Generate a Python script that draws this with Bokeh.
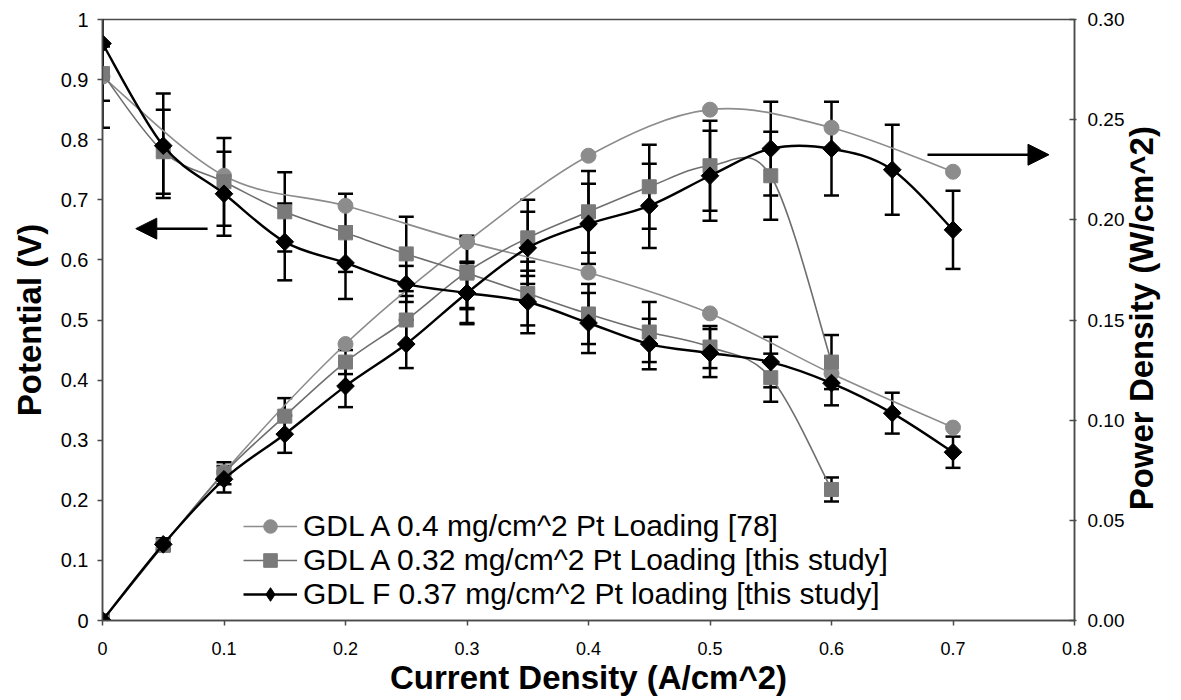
import math
from bokeh.plotting import figure
from bokeh.models import (Range1d, LinearAxis, FixedTicker, Whisker, TeeHead, ColumnDataSource,
                          Legend, LegendItem, Arrow, NormalHead)
from bokeh.embed import file_html
from bokeh.resources import INLINE

# ---------------- data ----------------
x_ticks = [0, 0.1, 0.2, 0.3, 0.4, 0.5, 0.6, 0.7, 0.8]
x_tick_labels = ["0", "0.1", "0.2", "0.3", "0.4", "0.5", "0.6", "0.7", "0.8"]
v_ticks = [0, 0.1, 0.2, 0.3, 0.4, 0.5, 0.6, 0.7, 0.8, 0.9, 1]
v_tick_labels = ["0", "0.1", "0.2", "0.3", "0.4", "0.5", "0.6", "0.7", "0.8", "0.9", "1"]
p_ticks = [0, 0.05, 0.1, 0.15, 0.2, 0.25, 0.3]
p_tick_labels = ["0.00", "0.05", "0.10", "0.15", "0.20", "0.25", "0.30"]

x_title = "Current Density (A/cm^2)"
v_title = "Potential (V)"
p_title = "Power Density (W/cm^2)"
p_title_anchor = 0.055   # power value where the bottom-to-top right title starts

names = ["GDL A 0.4 mg/cm^2 Pt Loading [78]",
         "GDL A 0.32 mg/cm^2 Pt Loading [this study]",
         "GDL F 0.37 mg/cm^2 Pt loading [this study]"]

# GDL A 0.4 mg/cm^2 [78] (circles, no error bars)
cur_a04 = [0, 0.1, 0.2, 0.3, 0.4, 0.5, 0.6, 0.7]
pot_a04 = [0.905, 0.74, 0.69, 0.63, 0.579, 0.511, 0.411, 0.321]
pow_a04 = [0, 0.074, 0.138, 0.189, 0.232, 0.255, 0.246, 0.224]

# GDL A 0.32 mg/cm^2 [this study] (squares)
cur_a032 = [0, 0.05, 0.1, 0.15, 0.2, 0.25, 0.3, 0.35, 0.4, 0.45, 0.5, 0.55, 0.6]
pot_a032 = [0.91, 0.78, 0.73, 0.68, 0.645, 0.61, 0.578, 0.544, 0.51, 0.48, 0.455, 0.404, 0.218]
pot_a032_err = [0.045, 0.07, 0.073, 0.066, 0.065, 0.062, 0.06, 0.053, 0.05, 0.05, 0.035, 0.04, 0.02]
pow_a032 = [0, 0.0375, 0.0735, 0.102, 0.129, 0.15, 0.174, 0.191, 0.204, 0.2165, 0.227, 0.222, 0.129]
pow_a032_err = [0, 0.0015, 0.0055, 0.009, 0.006, 0.012, 0.018, 0.019, 0.0204, 0.021, 0.0225, 0.022, 0.0135]

# GDL F 0.37 mg/cm^2 [this study] (diamonds)
cur_f037 = [0, 0.05, 0.1, 0.15, 0.2, 0.25, 0.3, 0.35, 0.4, 0.45, 0.5, 0.55, 0.6, 0.65, 0.7]
pot_f037 = [0.96, 0.79, 0.71, 0.63, 0.595, 0.56, 0.545, 0.53, 0.495, 0.46, 0.445, 0.43, 0.395, 0.345, 0.28]
pot_f037_err = [0.14, 0.087, 0.07, 0.064, 0.06, 0.03, 0.052, 0.052, 0.05, 0.042, 0.04, 0.042, 0.037, 0.034, 0.026]
pow_f037 = [0, 0.038, 0.0705, 0.093, 0.117, 0.138, 0.1635, 0.186, 0.198, 0.207, 0.222, 0.2355, 0.2355, 0.225, 0.195]
pow_f037_err = [0, 0.003, 0.0066, 0.0093, 0.0105, 0.012, 0.015, 0.018, 0.020, 0.021, 0.0225, 0.0234, 0.0234, 0.0225, 0.0195]

# annotation arrows (potential arrow points left, power arrow points right)
arrow_left = dict(x_start=0.0865, x_end=0.0274, y=0.652)
arrow_right = dict(x_start=0.679, x_end=0.779, y=0.775)

FONT = "Liberation Sans"

# ---------------- figure ----------------
p = figure(width=1181, height=700, x_range=Range1d(0, 0.8), y_range=Range1d(0, 1),
           output_backend="svg", toolbar_location=None,
           min_border_left=102, min_border_right=104, min_border_top=19, min_border_bottom=80)
p.extra_y_ranges = {"power": Range1d(0, 0.3)}
p.xgrid.visible = False
p.ygrid.visible = False
p.outline_line_color = "#4a4a4a"
p.outline_line_width = 1.5
p.background_fill_color = "white"
p.border_fill_color = "white"


def style_axis(ax, ticks, labels, tsize):
    ax.ticker = FixedTicker(ticks=ticks)
    ax.major_label_overrides = {t: l for t, l in zip(ticks, labels)}
    ax.minor_tick_line_color = None
    ax.axis_line_color = "#4a4a4a"
    ax.axis_line_width = 1.5
    ax.major_tick_line_color = "#4a4a4a"
    ax.major_tick_line_width = 1.5
    ax.major_label_text_font = FONT
    ax.major_label_text_font_size = tsize
    ax.major_label_text_color = "black"
    ax.axis_label_text_font = FONT
    ax.axis_label_text_font_style = "bold"
    ax.axis_label_text_font_size = "33px"
    ax.axis_label_text_color = "black"


xa = p.xaxis[0]
style_axis(xa, x_ticks, x_tick_labels, "18px")
xa.axis_label = x_title
xa.major_tick_out = 5
xa.major_tick_in = 0
xa.major_label_standoff = 16
xa.axis_label_standoff = 1

ya = p.yaxis[0]
style_axis(ya, v_ticks, v_tick_labels, "20px")
ya.axis_label = v_title
ya.major_tick_out = 5
ya.major_tick_in = 0
ya.major_label_standoff = 9
ya.axis_label_standoff = 10

ra = LinearAxis(y_range_name="power")
style_axis(ra, p_ticks, p_tick_labels, "19px")
ra.major_tick_in = 5
ra.major_tick_out = 2
ra.major_label_standoff = 11
p.add_layout(ra, "right")

# right-hand title (reads bottom-to-top): a bare axis whose single label is the title
rt = LinearAxis(y_range_name="power")
rt.ticker = FixedTicker(ticks=[p_title_anchor])
rt.major_label_overrides = {p_title_anchor: p_title}
rt.major_label_orientation = math.pi / 2
rt.major_label_text_font = FONT
rt.major_label_text_font_style = "bold"
rt.major_label_text_font_size = "33px"
rt.major_label_text_color = "black"
rt.major_label_standoff = 14
rt.axis_line_color = None
rt.major_tick_line_color = None
rt.minor_tick_line_color = None
rt.major_tick_in = 0
rt.major_tick_out = 0
p.add_layout(rt, "right")


# ---------------- smooth curves (Catmull-Rom as cubic Bezier) ----------------
def bezier_source(xs, ys):
    n = len(xs)
    d = dict(x0=[], y0=[], x1=[], y1=[], cx0=[], cy0=[], cx1=[], cy1=[])
    for i in range(n - 1):
        a = i - 1 if i > 0 else i
        b = i + 2 if i + 2 < n else i + 1
        d["x0"].append(xs[i]); d["y0"].append(ys[i])
        d["x1"].append(xs[i + 1]); d["y1"].append(ys[i + 1])
        d["cx0"].append(xs[i] + (xs[i + 1] - xs[a]) / 6.0)
        d["cy0"].append(ys[i] + (ys[i + 1] - ys[a]) / 6.0)
        d["cx1"].append(xs[i + 1] - (xs[b] - xs[i]) / 6.0)
        d["cy1"].append(ys[i + 1] - (ys[b] - ys[i]) / 6.0)
    return ColumnDataSource(d)


def whisker(xs, ys, es, rng=None):
    src = ColumnDataSource(dict(x=xs, up=[y + e for y, e in zip(ys, es)],
                                lo=[y - e for y, e in zip(ys, es)]))
    kw = dict(base="x", upper="up", lower="lo", source=src, dimension="height",
              line_color="black", line_width=2.5, level="underlay",
              upper_head=TeeHead(size=15, line_width=2.5, line_color="black"),
              lower_head=TeeHead(size=15, line_width=2.5, line_color="black"))
    if rng:
        kw["y_range_name"] = rng
    p.add_layout(Whisker(**kw))


whisker(cur_a032, pot_a032, pot_a032_err)
whisker(cur_a032, pow_a032, pow_a032_err, "power")
whisker(cur_f037, pot_f037, pot_f037_err)
whisker(cur_f037, pow_f037, pow_f037_err, "power")

series = [
    dict(x=cur_a04, v=pot_a04, pw=pow_a04, marker="circle", size=15, angle=0.0,
         leg_marker="circle", fill="#8c8c8c", lcol="#8c8c8c", lw=1.6),
    dict(x=cur_a032, v=pot_a032, pw=pow_a032, marker="square", size=14, angle=0.0,
         leg_marker="square", fill="#7a7a7a", lcol="#6e6e6e", lw=1.6),
    dict(x=cur_f037, v=pot_f037, pw=pow_f037, marker="square", size=12.5, angle=math.pi / 4,
         leg_marker="diamond", fill="black", lcol="black", lw=2.4),
]

items = []
for s, name in zip(series, names):
    for yv, rng in ((s["v"], "default"), (s["pw"], "power")):
        p.bezier(x0="x0", y0="y0", x1="x1", y1="y1", cx0="cx0", cy0="cy0", cx1="cx1", cy1="cy1",
                 source=bezier_source(s["x"], yv), line_color=s["lcol"], line_width=s["lw"],
                 y_range_name=rng)
    # one-point renderers used only for the legend swatches (hidden under the first marker)
    leg_line = p.line(x=s["x"][:1], y=s["v"][:1], line_color=s["lcol"], line_width=s["lw"])
    leg_mark = p.scatter(x=s["x"][:1], y=s["v"][:1], marker=s["leg_marker"], size=10,
                         fill_color=s["fill"], line_color=s["fill"])
    for yv, rng in ((s["v"], "default"), (s["pw"], "power")):
        p.scatter(s["x"], yv, marker=s["marker"], size=s["size"], angle=s["angle"],
                  fill_color=s["fill"], line_color=s["fill"], line_width=1,
                  y_range_name=rng)
    items.append(LegendItem(label=name, renderers=[leg_line, leg_mark]))

legend = Legend(items=items, location=(141, 9), orientation="vertical",
                label_text_font=FONT, label_text_font_size="30px", label_text_color="black",
                background_fill_alpha=0, border_line_alpha=0, padding=0, margin=0, spacing=0,
                glyph_width=54, glyph_height=34, label_height=34, label_standoff=6,
                label_text_baseline="middle")
p.add_layout(legend)

p.add_layout(Arrow(end=NormalHead(size=21, fill_color="black", line_color="black"),
                   x_start=arrow_left["x_start"], y_start=arrow_left["y"],
                   x_end=arrow_left["x_end"], y_end=arrow_left["y"],
                   line_color="black", line_width=2.5))
p.add_layout(Arrow(end=NormalHead(size=21, fill_color="black", line_color="black"),
                   x_start=arrow_right["x_start"], y_start=arrow_right["y"],
                   x_end=arrow_right["x_end"], y_end=arrow_right["y"],
                   line_color="black", line_width=2.5))

open("out.html", "w").write(file_html(p, INLINE))
